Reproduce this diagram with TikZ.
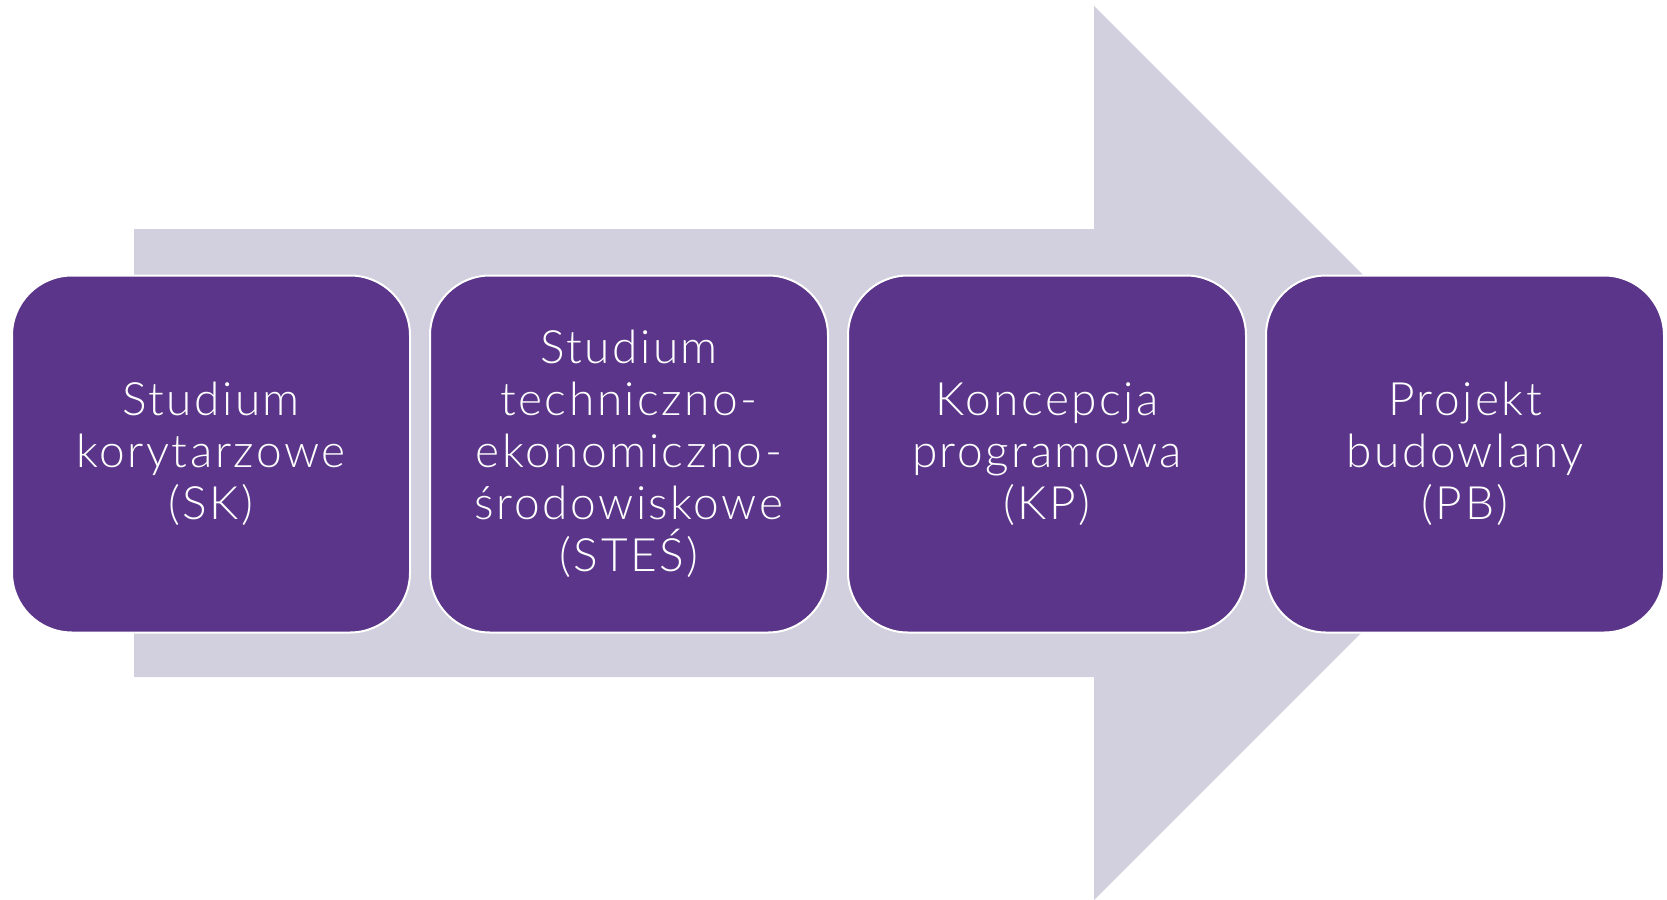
\documentclass[tikz,border=0pt]{standalone}
\usepackage{fontspec}
\setmainfont{Lato Light}[LetterSpace=5.5]
\definecolor{stagepurple}{HTML}{5B3589}
\definecolor{arrowgrey}{HTML}{D2CFDE}

\tikzset{
  stage/.style={fill=stagepurple, draw=white, line width=1pt,
    rounded corners=30pt, minimum width=199pt, minimum height=178.5pt,
    text=white, align=center, font=\fontsize{23}{26}\selectfont}
}

\begin{document}
\begin{tikzpicture}[x=0.5pt,y=-0.5pt]
            \useasboundingbox (0,0) rectangle (1667,900);

            % Define points of the big arrow
            \coordinate (TailTop) at (134,229);
            \coordinate (TailBot) at (134,677);
            \coordinate (NeckTop) at (1094,229);
            \coordinate (NeckBot) at (1094,677);
            \coordinate (HeadTop) at (1094,6);
            \coordinate (HeadBot) at (1094,900);
            \coordinate (Tip) at (1541,453);

            % Draw background arrow
            \fill[arrowgrey] (TailTop) -- (NeckTop) -- (HeadTop) -- (Tip)
              -- (HeadBot) -- (NeckBot) -- (TailBot) -- cycle;

            % Stages
            \node[stage] (sk) at (211,454) {Studium\\korytarzowe\\(SK)};
            \node[stage] (stes) at (629,454) {Studium\\techniczno-\\ekonomiczno-\\środowiskowe\\(STEŚ)};
            \node[stage] (kp) at (1047,454) {Koncepcja\\programowa\\(KP)};
            \node[stage] (pb) at (1465,454) {Projekt\\budowlany\\(PB)};
        \end{tikzpicture}
\end{document}
